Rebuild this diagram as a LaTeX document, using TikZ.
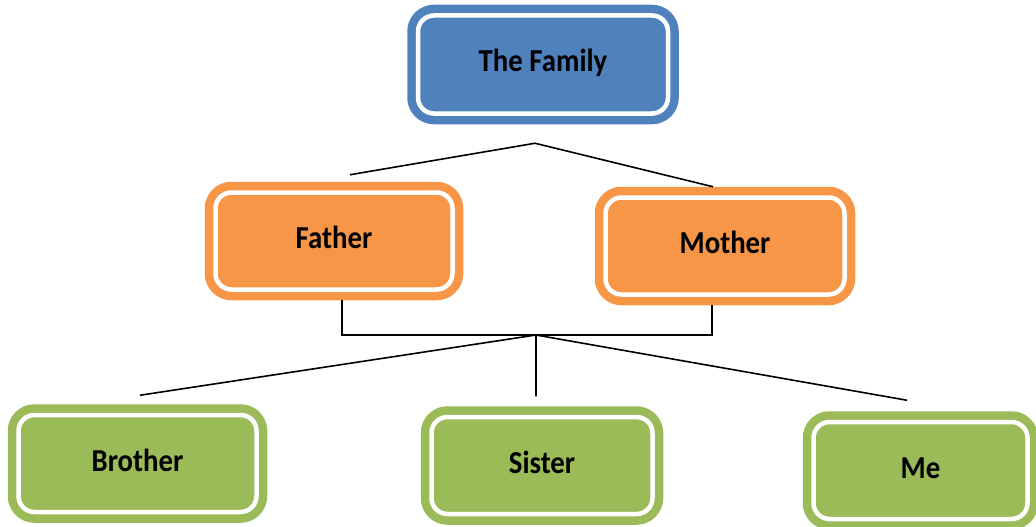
\documentclass[tikz,border=0pt]{standalone}
\usepackage{fontspec}
\setmainfont{Carlito}[FakeStretch=0.9]
\usetikzlibrary{calc}

\definecolor{famblue}{RGB}{79,129,189}
\definecolor{famorange}{RGB}{247,150,70}
\definecolor{famgreen}{RGB}{155,187,89}

\tikzset{
  member/.style={draw=#1, fill=#1, double=white, double distance=4.5pt,
    line width=8.5pt, rounded corners=16pt, outer sep=10.75pt,
    minimum height=97pt, text height=23pt, text depth=8pt,
    font=\bfseries\fontsize{32}{36}\selectfont},
  link/.style={line width=1.6pt, black}
}

\begin{document}
\begin{tikzpicture}[x=1pt,y=-1pt]
\useasboundingbox (0,0) rectangle (1036,527);
% the boxes
\node[member=famblue, minimum width=250pt, minimum height=98pt] (family) at (543,64.5) {The Family};
\node[member=famorange, minimum width=237pt] (father) at (334,241) {Father};
\node[member=famorange, minimum width=239pt] (mother) at (725,246) {Mother};
\node[member=famgreen, minimum width=238pt] (brother) at (137.5,463.5) {Brother};
\node[member=famgreen, minimum width=221pt] (sister) at (542,465.5) {Sister};
\node[member=famgreen, minimum width=214pt] (me) at (920.5,470.5) {Me};
% the joins
\coordinate (parents) at ($(family.south)+(-8,19)$);
\coordinate (kids) at (536,335);
\draw[link] ([xshift=16pt,yshift=7pt]father.north) -- (parents) -- ([xshift=-12pt]mother.north);
\draw[link] ([xshift=8pt]father.south) |- (kids) -| ([xshift=-13pt]mother.south);
\draw[link] ($(brother.north)+(2.5,-9)$) -- (kids) -- ($(kids |- sister.north)+(0,-10)$);
\draw[link] (kids) -- ($(me.north)+(-13.5,-11)$);
\end{tikzpicture}
\end{document}
